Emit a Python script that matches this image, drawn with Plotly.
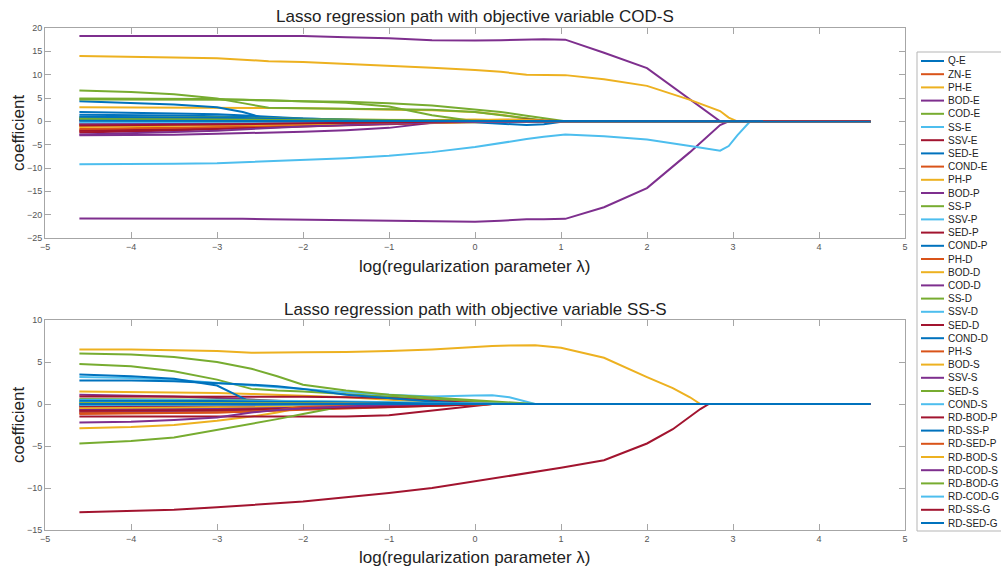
import plotly.graph_objects as go

# ---------------- data ----------------
NAMES = ["Q-E", "ZN-E", "PH-E", "BOD-E", "COD-E", "SS-E", "SSV-E", "SED-E", "COND-E",
         "PH-P", "BOD-P", "SS-P", "SSV-P", "SED-P", "COND-P",
         "PH-D", "BOD-D", "COD-D", "SS-D", "SSV-D", "SED-D", "COND-D",
         "PH-S", "BOD-S", "SSV-S", "SED-S", "COND-S",
         "RD-BOD-P", "RD-SS-P", "RD-SED-P", "RD-BOD-S", "RD-COD-S",
         "RD-BOD-G", "RD-COD-G", "RD-SS-G", "RD-SED-G"]

COLORS = ["#0072BD", "#D95319", "#EDB120", "#7E2F8E", "#77AC30", "#4DBEEE", "#A2142F"]

# log(lambda) grid, panel 1 (objective COD-S)
LOG_LAMBDA_COD = [-4.6, -4.0, -3.5, -3.0, -2.7, -2.4, -2.0, -1.5, -1.0, -0.5, 0.0, 0.3,
                  0.6, 0.8, 1.05, 1.5, 2.0, 2.5, 2.7, 2.85, 2.95, 3.05, 3.2, 4.6]

COEF_COD_S = [
    [2.0, 1.9, 1.7, 1.5, 1.3, 1.0, 0.6, 0.3, 0.1, 0, 0, 0, 0, 0, 0, 0, 0, 0, 0, 0, 0, 0, 0, 0],
    [-2.2, -2.0, -1.7, -1.4, -1.2, -1.0, -0.8, -0.6, -0.4, -0.2, 0, 0, 0, 0, 0, 0, 0, 0, 0, 0, 0, 0, 0, 0],
    [3.0, 3.0, 3.0, 2.95, 2.9, 2.85, 2.8, 2.7, 2.6, 2.4, 2.0, 1.4, 0.6, 0.15, 0, 0, 0, 0, 0, 0, 0, 0, 0, 0],
    [-3.0, -2.95, -2.85, -2.65, -2.55, -2.45, -2.25, -1.9, -1.4, -0.3, 0, 0, 0, 0, 0, 0, 0, 0, 0, 0, 0, 0, 0, 0],
    [6.6, 6.3, 5.8, 4.9, 3.9, 2.9, 2.8, 2.75, 2.7, 2.5, 2.0, 1.3, 0.6, 0.2, 0, 0, 0, 0, 0, 0, 0, 0, 0, 0],
    [0.8, 0.8, 0.75, 0.7, 0.6, 0.5, 0.4, 0.3, 0.2, 0.1, 0, 0, 0, 0, 0, 0, 0, 0, 0, 0, 0, 0, 0, 0],
    [-2.4, -2.2, -1.95, -1.65, -1.4, -1.15, -0.9, -0.65, -0.45, -0.2, 0, 0, 0, 0, 0, 0, 0, 0, 0, 0, 0, 0, 0, 0],
    [4.3, 4.0, 3.6, 3.0, 2.0, 0.4, 0.2, 0.1, 0.05, 0, 0, 0, 0, 0, 0, 0, 0, 0, 0, 0, 0, 0, 0, 0],
    [-1.8, -1.7, -1.5, -1.3, -1.1, -0.9, -0.7, -0.5, -0.3, -0.15, 0, 0, 0, 0, 0, 0, 0, 0, 0, 0, 0, 0, 0, 0],
    [0.6, 0.6, 0.55, 0.5, 0.45, 0.4, 0.35, 0.3, 0.25, 0.3, 0.4, 0.3, 0.1, 0, 0, 0, 0, 0, 0, 0, 0, 0, 0, 0],
    [-20.8, -20.8, -20.8, -20.8, -20.9, -21.0, -21.1, -21.2, -21.3, -21.4, -21.5, -21.3, -21.0, -21.0, -20.9, -18.4, -14.3, -6.6, -3.3, -0.8, 0, 0, 0, 0],
    [4.9, 4.9, 4.85, 4.8, 4.6, 4.45, 4.3, 4.2, 3.9, 3.4, 2.6, 2.0, 1.2, 0.6, 0, 0, 0, 0, 0, 0, 0, 0, 0, 0],
    [-9.2, -9.2, -9.1, -9.0, -8.8, -8.6, -8.3, -7.9, -7.4, -6.6, -5.5, -4.6, -3.8, -3.3, -2.8, -3.2, -3.9, -5.3, -5.8, -6.3, -5.3, -3.0, 0, 0],
    [-2.0, -1.9, -1.75, -1.55, -1.4, -1.25, -1.05, -0.8, -0.55, -0.3, -0.1, 0, 0, 0, 0, 0, 0, 0, 0, 0, 0, 0, 0, 0],
    [1.4, 1.35, 1.25, 1.1, 0.95, 0.75, 0.5, 0.3, 0.15, 0.05, 0, 0, 0, 0, 0, 0, 0, 0, 0, 0, 0, 0, 0, 0],
    [-1.6, -1.5, -1.35, -1.2, -1.05, -0.9, -0.75, -0.55, -0.35, -0.2, -0.05, 0, 0, 0, 0, 0, 0, 0, 0, 0, 0, 0, 0, 0],
    [-1.2, -1.1, -1.0, -0.9, -0.8, -0.7, -0.6, -0.5, -0.4, -0.3, -0.2, 0, 0, 0, 0, 0, 0, 0, 0, 0, 0, 0, 0, 0],
    [18.3, 18.3, 18.3, 18.35, 18.4, 18.4, 18.3, 18.0, 17.8, 17.4, 17.3, 17.4, 17.5, 17.6, 17.5, 14.7, 11.4, 4.6, 2.0, 0, 0, 0, 0, 0],
    [4.7, 4.7, 4.7, 4.65, 4.6, 4.5, 4.3, 4.0, 3.2, 1.3, 0, 0, 0, 0, 0, 0, 0, 0, 0, 0, 0, 0, 0, 0],
    [0.3, 0.3, 0.3, 0.25, 0.2, 0.2, 0.15, 0.1, 0.05, 0, 0, 0, 0, 0, 0, 0, 0, 0, 0, 0, 0, 0, 0, 0],
    [0.4, 0.4, 0.35, 0.3, 0.25, 0.2, 0.15, 0.1, 0.1, 0.1, 0.15, 0.3, 0.4, 0.2, 0, 0, 0, 0, 0, 0, 0, 0, 0, 0],
    [0.6, 0.55, 0.5, 0.45, 0.4, 0.3, 0.2, 0.1, 0.05, 0, -0.2, -0.5, -0.8, -0.6, 0, 0, 0, 0, 0, 0, 0, 0, 0, 0],
    [-0.8, -0.75, -0.7, -0.6, -0.55, -0.5, -0.4, -0.3, -0.2, -0.1, 0, 0, 0, 0, 0, 0, 0, 0, 0, 0, 0, 0, 0, 0],
    [14.0, 13.9, 13.7, 13.5, 13.2, 12.9, 12.7, 12.3, 12.0, 11.5, 11.0, 10.6, 10.0, 10.0, 9.9, 9.0, 7.6, 4.6, 3.3, 2.2, 0.8, 0, 0, 0],
    [-2.8, -2.6, -2.3, -2.0, -1.7, -1.4, -1.1, -0.8, -0.5, -0.2, 0, 0, 0, 0, 0, 0, 0, 0, 0, 0, 0, 0, 0, 0],
    [0.9, 0.9, 0.85, 0.8, 0.7, 0.6, 0.5, 0.4, 0.3, 0.2, 0.1, 0, 0, 0, 0, 0, 0, 0, 0, 0, 0, 0, 0, 0],
    [-0.3, -0.3, -0.3, -0.25, -0.2, -0.2, -0.15, -0.1, -0.05, 0, 0, 0, 0, 0, 0, 0, 0, 0, 0, 0, 0, 0, 0, 0],
    [0.2, 0.2, 0.2, 0.2, 0.15, 0.15, 0.1, 0.1, 0.05, 0, 0, 0, 0, 0, 0, 0, 0, 0, 0, 0, 0, 0, 0, 0],
    [1.0, 0.95, 0.9, 0.8, 0.7, 0.55, 0.4, 0.25, 0.1, 0, 0, 0, 0, 0, 0, 0, 0, 0, 0, 0, 0, 0, 0, 0],
    [-0.5, -0.5, -0.45, -0.4, -0.35, -0.3, -0.3, -0.25, -0.2, -0.1, 0, 0, 0, 0, 0, 0, 0, 0, 0, 0, 0, 0, 0, 0],
    [-1.0, -0.95, -0.9, -0.8, -0.7, -0.6, -0.5, -0.4, -0.3, -0.1, 0.2, 0.4, 0.3, 0.1, 0, 0, 0, 0, 0, 0, 0, 0, 0, 0],
    [-0.6, -0.6, -0.55, -0.5, -0.45, -0.4, -0.35, -0.3, -0.3, -0.2, -0.1, 0, 0, 0, 0, 0, 0, 0, 0, 0, 0, 0, 0, 0],
    [0.5, 0.5, 0.45, 0.4, 0.35, 0.3, 0.25, 0.2, 0.15, 0.1, 0.05, 0, 0, 0, 0, 0, 0, 0, 0, 0, 0, 0, 0, 0],
    [-0.2, -0.2, -0.2, -0.15, -0.15, -0.1, -0.1, -0.05, 0, 0, 0, 0, 0, 0, 0, 0, 0, 0, 0, 0, 0, 0, 0, 0],
    [-0.9, -0.85, -0.8, -0.7, -0.6, -0.5, -0.4, -0.3, -0.2, -0.1, 0, 0, 0, 0, 0, 0, 0, 0, 0, 0, 0, 0, 0, 0],
    [0.1, 0.1, 0.1, 0.1, 0.05, 0.05, 0.05, 0, 0, 0, 0, 0, 0, 0, 0, 0, 0, 0, 0, 0, 0, 0, 0, 0],
]

# log(lambda) grid, panel 2 (objective SS-S)
LOG_LAMBDA_SS = [-4.6, -4.0, -3.5, -3.0, -2.6, -2.3, -2.0, -1.5, -1.0, -0.5, 0.0, 0.2,
                 0.4, 0.7, 1.0, 1.5, 2.0, 2.3, 2.5, 2.62, 2.72, 4.6]

COEF_SS_S = [
    [0.2, 0.2, 0.2, 0.15, 0.15, 0.1, 0.1, 0.05, 0, 0, 0, 0, 0, 0, 0, 0, 0, 0, 0, 0, 0, 0],
    [-0.3, -0.3, -0.3, -0.25, -0.2, -0.2, -0.15, -0.1, -0.05, 0, 0, 0, 0, 0, 0, 0, 0, 0, 0, 0, 0, 0],
    [1.5, 1.45, 1.4, 1.3, 1.2, 1.1, 1.0, 0.8, 0.5, 0.25, 0, 0, 0, 0, 0, 0, 0, 0, 0, 0, 0, 0],
    [1.1, 1.0, 0.9, 0.7, 0.5, 0.35, 0.25, 0.1, 0, 0, 0, 0, 0, 0, 0, 0, 0, 0, 0, 0, 0, 0],
    [4.75, 4.5, 3.9, 2.9, 1.8, 1.6, 1.5, 1.2, 0.9, 0.6, 0.3, 0.15, 0.05, 0, 0, 0, 0, 0, 0, 0, 0, 0],
    [3.2, 3.1, 2.9, 2.5, 2.2, 2.0, 1.8, 1.4, 1.1, 0.9, 1.0, 1.05, 0.8, 0, 0, 0, 0, 0, 0, 0, 0, 0],
    [0.9, 0.9, 0.9, 0.9, 0.9, 0.9, 0.85, 0.8, 0.7, 0.4, 0.1, 0, 0, 0, 0, 0, 0, 0, 0, 0, 0, 0],
    [3.5, 3.3, 3.0, 2.2, 0.2, 0, 0, 0, 0, 0, 0, 0, 0, 0, 0, 0, 0, 0, 0, 0, 0, 0],
    [-0.6, -0.6, -0.55, -0.5, -0.45, -0.4, -0.35, -0.3, -0.2, -0.1, 0, 0, 0, 0, 0, 0, 0, 0, 0, 0, 0, 0],
    [-2.9, -2.75, -2.5, -2.0, -1.5, -1.0, -0.4, -0.1, 0, 0, 0, 0, 0, 0, 0, 0, 0, 0, 0, 0, 0, 0],
    [-0.4, -0.4, -0.4, -0.35, -0.3, -0.3, -0.25, -0.2, -0.1, -0.05, 0, 0, 0, 0, 0, 0, 0, 0, 0, 0, 0, 0],
    [0.6, 0.6, 0.55, 0.5, 0.45, 0.4, 0.35, 0.3, 0.2, 0.1, 0, 0, 0, 0, 0, 0, 0, 0, 0, 0, 0, 0],
    [0.5, 0.5, 0.5, 0.45, 0.4, 0.4, 0.35, 0.3, 0.2, 0.1, 0, 0, 0, 0, 0, 0, 0, 0, 0, 0, 0, 0],
    [-1.5, -1.5, -1.5, -1.5, -1.5, -1.5, -1.5, -1.5, -1.35, -0.8, -0.2, 0, 0, 0, 0, 0, 0, 0, 0, 0, 0, 0],
    [2.8, 2.8, 2.7, 2.5, 2.3, 2.1, 1.8, 1.1, 0.7, 0.3, 0, 0, 0, 0, 0, 0, 0, 0, 0, 0, 0, 0],
    [-0.9, -0.9, -0.85, -0.8, -0.7, -0.6, -0.5, -0.4, -0.3, -0.15, 0, 0, 0, 0, 0, 0, 0, 0, 0, 0, 0, 0],
    [6.5, 6.5, 6.4, 6.3, 6.1, 6.1, 6.15, 6.2, 6.3, 6.5, 6.8, 6.9, 6.95, 7.0, 6.7, 5.5, 3.2, 1.9, 0.8, 0, 0, 0],
    [-1.0, -1.0, -0.95, -0.9, -0.8, -0.7, -0.6, -0.45, -0.3, -0.15, 0, 0, 0, 0, 0, 0, 0, 0, 0, 0, 0, 0],
    [6.0, 5.9, 5.6, 5.0, 4.2, 3.3, 2.3, 1.6, 1.1, 0.8, 0.5, 0.35, 0.2, 0, 0, 0, 0, 0, 0, 0, 0, 0],
    [0.3, 0.3, 0.3, 0.3, 0.25, 0.25, 0.2, 0.15, 0.1, 0.05, 0, 0, 0, 0, 0, 0, 0, 0, 0, 0, 0, 0],
    [-0.2, -0.2, -0.2, -0.2, -0.2, -0.15, -0.15, -0.1, -0.05, 0, 0, 0, 0, 0, 0, 0, 0, 0, 0, 0, 0, 0],
    [-0.1, -0.1, -0.1, -0.1, -0.1, -0.1, -0.05, -0.05, 0, 0, 0, 0, 0, 0, 0, 0, 0, 0, 0, 0, 0, 0],
    [-1.1, -1.1, -1.05, -1.0, -0.9, -0.8, -0.7, -0.55, -0.4, -0.2, 0, 0, 0, 0, 0, 0, 0, 0, 0, 0, 0, 0],
    [-0.5, -0.5, -0.45, -0.4, -0.35, -0.3, -0.25, -0.2, -0.1, 0, 0, 0, 0, 0, 0, 0, 0, 0, 0, 0, 0, 0],
    [-0.7, -0.7, -0.65, -0.6, -0.55, -0.5, -0.45, -0.35, -0.25, -0.1, 0, 0, 0, 0, 0, 0, 0, 0, 0, 0, 0, 0],
    [-4.7, -4.4, -4.0, -3.1, -2.3, -1.8, -1.2, -0.2, 0, 0, 0, 0, 0, 0, 0, 0, 0, 0, 0, 0, 0, 0],
    [0.2, 0.2, 0.2, 0.2, 0.15, 0.15, 0.1, 0.1, 0.05, 0, 0, 0, 0, 0, 0, 0, 0, 0, 0, 0, 0, 0],
    [-0.8, -0.8, -0.75, -0.7, -0.65, -0.6, -0.55, -0.45, -0.35, -0.2, 0, 0, 0, 0, 0, 0, 0, 0, 0, 0, 0, 0],
    [0.4, 0.4, 0.4, 0.35, 0.3, 0.3, 0.25, 0.2, 0.1, 0.05, 0, 0, 0, 0, 0, 0, 0, 0, 0, 0, 0, 0],
    [-1.2, -1.15, -1.1, -1.0, -0.9, -0.75, -0.3, -0.1, 0, 0, 0, 0, 0, 0, 0, 0, 0, 0, 0, 0, 0, 0],
    [0.1, 0.1, 0.1, 0.1, 0.1, 0.05, 0.05, 0.05, 0, 0, 0, 0, 0, 0, 0, 0, 0, 0, 0, 0, 0, 0],
    [-2.2, -2.1, -1.9, -1.6, -1.0, -0.7, -0.5, -0.3, -0.1, 0, 0, 0, 0, 0, 0, 0, 0, 0, 0, 0, 0, 0],
    [0.1, 0.1, 0.1, 0.05, 0.05, 0.05, 0.05, 0, 0, 0, 0, 0, 0, 0, 0, 0, 0, 0, 0, 0, 0, 0],
    [-0.1, -0.1, -0.1, -0.05, -0.05, -0.05, -0.05, 0, 0, 0, 0, 0, 0, 0, 0, 0, 0, 0, 0, 0, 0, 0],
    [-12.9, -12.75, -12.6, -12.3, -12.0, -11.8, -11.6, -11.1, -10.6, -10.0, -9.2, -8.9, -8.6, -8.1, -7.6, -6.7, -4.7, -3.0, -1.5, -0.6, 0, 0],
    [0, 0, 0, 0, 0, 0, 0, 0, 0, 0, 0, 0, 0, 0, 0, 0, 0, 0, 0, 0, 0, 0],
]

TITLES = ["Lasso regression path with objective variable COD-S",
          "Lasso regression path with objective variable SS-S"]
X_LABEL = "log(regularization parameter λ)"
Y_LABEL = "coefficient"
X_TICKS = [-5, -4, -3, -2, -1, 0, 1, 2, 3, 4, 5]
Y_TICKS_COD = [-25, -20, -15, -10, -5, 0, 5, 10, 15, 20]
Y_TICKS_SS = [-15, -10, -5, 0, 5, 10]

# ---------------- figure ----------------
W, H = 1001, 571
FONT = "Liberation Sans, Arial, Helvetica, sans-serif"
AX_GRAY = "#a6a6a6"
TXT = "#222222"


def py(p):
    return 1 - p / H


fig = go.Figure()

for i, name in enumerate(NAMES):
    c = COLORS[i % len(COLORS)]
    fig.add_trace(go.Scatter(x=LOG_LAMBDA_COD, y=COEF_COD_S[i], mode="lines", name=name,
                             line=dict(color=c, width=2), xaxis="x", yaxis="y",
                             showlegend=False))
for i, name in enumerate(NAMES):
    c = COLORS[i % len(COLORS)]
    fig.add_trace(go.Scatter(x=LOG_LAMBDA_SS, y=COEF_SS_S[i], mode="lines", name=name,
                             line=dict(color=c, width=2), xaxis="x2", yaxis="y2",
                             showlegend=False))


def xax(anchor):
    return dict(domain=[45 / W, 905 / W], range=[-5, 5], tickvals=X_TICKS,
                showline=True, linecolor=AX_GRAY, linewidth=1, mirror="allticks",
                ticks="inside", ticklen=6, tickcolor=AX_GRAY, showgrid=False,
                zeroline=False, anchor=anchor, automargin=False,
                tickfont=dict(size=9, color="#555555", family=FONT))


def yax(dom, rng, ticks, anchor):
    return dict(domain=dom, range=rng, tickvals=ticks,
                showline=True, linecolor=AX_GRAY, linewidth=1, mirror="allticks",
                ticks="inside", ticklen=6, tickcolor=AX_GRAY, showgrid=False,
                zeroline=False, anchor=anchor, automargin=False,
                tickfont=dict(size=9, color="#555555", family=FONT))


fig.update_layout(
    template="none",
    width=W, height=H,
    margin=dict(l=0, r=0, t=0, b=0),
    paper_bgcolor="white", plot_bgcolor="white",
    font=dict(family=FONT),
    xaxis=xax("y"),
    yaxis=yax([py(238), py(28)], [-25, 20], Y_TICKS_COD, "x"),
    xaxis2=xax("y2"),
    yaxis2=yax([py(530), py(320)], [-15, 10], Y_TICKS_SS, "x2"),
)

annotations = []
shapes = []
# subplot titles and axis titles (per panel)
for t, yt, yx, yy in zip(TITLES, [17, 309], [266, 557], [133, 425]):
    annotations.append(dict(text=t, x=475 / W, y=py(yt), xref="paper", yref="paper",
                            xanchor="center", yanchor="middle", showarrow=False,
                            font=dict(size=17, color=TXT, family=FONT)))
    annotations.append(dict(text=X_LABEL, x=475 / W, y=py(yx), xref="paper", yref="paper",
                            xanchor="center", yanchor="middle", showarrow=False,
                            font=dict(size=17, color=TXT, family=FONT)))
    annotations.append(dict(text=Y_LABEL, x=18 / W, y=py(yy), xref="paper", yref="paper",
                            xanchor="center", yanchor="middle", showarrow=False,
                            textangle=-90,
                            font=dict(size=17, color=TXT, family=FONT)))

# legend box
shapes.append(dict(type="rect", xref="paper", yref="paper",
                   x0=917 / W, x1=1010 / W, y0=py(531), y1=py(52),
                   line=dict(color="#b5b5b5", width=1), fillcolor="white", layer="below"))
for i, name in enumerate(NAMES):
    yp = 61 + i * 13.2
    c = COLORS[i % len(COLORS)]
    shapes.append(dict(type="line", xref="paper", yref="paper",
                       x0=921 / W, x1=944 / W, y0=py(yp), y1=py(yp),
                       line=dict(color=c, width=2)))
    annotations.append(dict(text=name, x=946 / W, y=py(yp), xref="paper", yref="paper",
                            xanchor="left", yanchor="middle", showarrow=False,
                            font=dict(size=10, color=TXT, family=FONT)))

fig.update_layout(annotations=annotations, shapes=shapes)

fig.write_html("out.html",
               config={"displayModeBar": False},
               post_script="document.body.style.margin='0px';"
                           "document.body.style.overflow='hidden';")
